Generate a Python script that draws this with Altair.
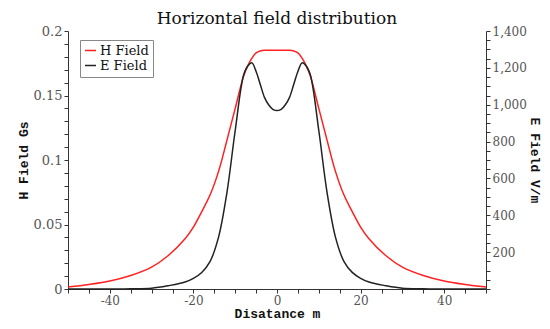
import altair as alt
import pandas as pd

# distance (m)
dist = [-50, -45, -40, -35, -30, -26, -22, -20, -18, -16, -14, -12, -10, -8, -7, -6, -5, -4, -3, -2, -1,
        0, 1, 2, 3, 4, 5, 6, 7, 8, 10, 12, 14, 16, 18, 20, 22, 26, 30, 35, 40, 45, 50]
# H field (Gs)
h_field = [0.0015, 0.0035, 0.0062, 0.0105, 0.017, 0.026, 0.039, 0.048, 0.060, 0.073, 0.091, 0.115, 0.140, 0.165,
           0.173, 0.179, 0.183, 0.1845, 0.185, 0.185, 0.185,
           0.185, 0.185, 0.185, 0.185, 0.1845, 0.183, 0.179, 0.173, 0.165, 0.140, 0.115, 0.091, 0.073,
           0.060, 0.048, 0.039, 0.026, 0.017, 0.0105, 0.0062, 0.0035, 0.0015]
# E field (V/m)
e_field = [0, 0, 0, 1, 4, 18, 38, 58, 90, 150, 280, 520, 860, 1160,
           1210, 1227, 1180, 1110, 1040, 1000, 975,
           968, 975, 1000, 1040, 1110, 1180, 1227, 1210, 1160, 860, 520, 280, 150,
           90, 58, 38, 18, 4, 1, 0, 0, 0]

series_names = ["H Field", "E Field"]
series_colors = ["#ff2020", "#222222"]

df = pd.DataFrame({"d": dist, "H": h_field, "E": e_field})

TFONT = "Liberation Mono"
LFONT = "DejaVu Serif"

x_axis = alt.Axis(
    values=list(range(-50, 51, 5)),
    labelExpr="datum.value % 20 == 0 && abs(datum.value) < 50 ? datum.value : ''",
    labelOverlap=False,
    labelFlush=False,
    grid=False,
    title="Disatance m",
    titleFont=TFONT, titleFontSize=13, titleFontWeight="bold", titleColor="#111",
    labelFont=LFONT, labelFontSize=12, labelColor="#555",
    domainColor="#333", tickColor="#333",
    tickSize=4, titlePadding=1, labelPadding=2,
)

x_enc = alt.X("d:Q", scale=alt.Scale(domain=[-50, 50], nice=False, zero=False), axis=x_axis)

color_enc = alt.Color(
    "series:N",
    scale=alt.Scale(domain=series_names, range=series_colors),
    legend=alt.Legend(title=None, orient="none", legendX=12, legendY=9,
                      symbolType="stroke", symbolSize=121, symbolStrokeWidth=1.5,
                      labelFont=LFONT, labelFontSize=13, labelColor="#111",
                      strokeColor="#888", fillColor="white", padding=4,
                      rowPadding=1, labelOffset=3),
)

h_line = alt.Chart(df).transform_calculate(series="'H Field'").mark_line(
    strokeWidth=1.5, interpolate="catmull-rom").encode(
    x=x_enc,
    y=alt.Y("H:Q", scale=alt.Scale(domain=[0, 0.2], nice=False),
            axis=alt.Axis(
                orient="left",
                values=[i / 100 for i in range(21)],
                labelExpr="round(datum.value*100) % 5 == 0 ? format(datum.value, '~g') : ''",
                labelOverlap=False, grid=False,
                title="H Field Gs",
                titleFont=TFONT, titleFontSize=13, titleFontWeight="bold", titleColor="#111",
                labelFont=LFONT, labelFontSize=13, labelColor="#555",
                domainColor="#333", tickColor="#333", tickSize=4,
                titlePadding=3,
            )),
    color=color_enc,
)

e_line = alt.Chart(df).transform_calculate(series="'E Field'").mark_line(
    strokeWidth=1.5, interpolate="catmull-rom").encode(
    x=x_enc,
    y=alt.Y("E:Q", scale=alt.Scale(domain=[0, 1400], nice=False),
            axis=alt.Axis(
                orient="right",
                values=list(range(0, 1401, 50)),
                labelExpr="datum.value % 200 == 0 && datum.value > 0 ? format(datum.value, ',') : ''",
                labelOverlap=False, grid=False,
                title="E Field V/m",
                titleFont=TFONT, titleFontSize=13, titleFontWeight="bold", titleColor="#111",
                labelFont=LFONT, labelFontSize=12, labelColor="#555",
                domainColor="#333", tickColor="#333", tickSize=4,
                titlePadding=1,
            )),
    color=color_enc,
)

chart = alt.layer(h_line, e_line).resolve_scale(y="independent").properties(
    width=418,
    height=258,
    title=alt.TitleParams("Horizontal field distribution", font=LFONT, fontSize=17,
                          fontWeight="normal", color="#111", anchor="middle", offset=-3),
    autosize=alt.AutoSizeParams(type="none"),
    padding={"left": 60, "top": 23, "right": 56, "bottom": 32},
).configure_view(stroke=None)

chart.save("out.html", embed_options={"renderer": "svg", "actions": False})
